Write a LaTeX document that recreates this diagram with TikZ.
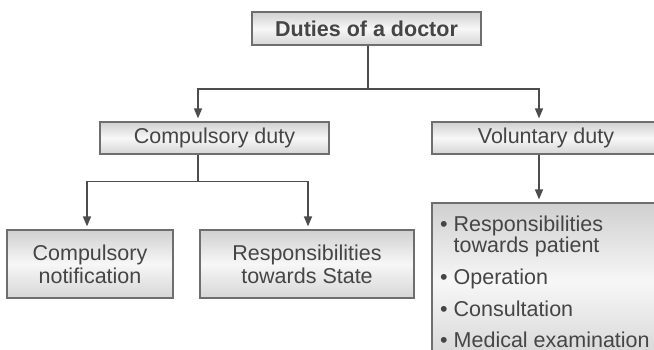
\documentclass[tikz,border=0pt]{standalone}
\usepackage{fontspec}
\setmainfont{Liberation Sans}
\usepackage{tikz}
\usetikzlibrary{arrows.meta}

\definecolor{inkgray}{HTML}{454545}
\definecolor{edgegray}{HTML}{6E6E6E}
\definecolor{linegray}{HTML}{4D4D4D}
\definecolor{shadetop}{HTML}{D0D0D0}
\definecolor{shademid}{HTML}{F7F7F7}
\definecolor{shadebot}{HTML}{D6D6D6}

\begin{document}
\begin{tikzpicture}[x=1pt,y=-1pt,
    duty/.style={draw=edgegray, line width=1.2pt, top color=shadetop,
      bottom color=shadebot, middle color=shademid, inner sep=0pt,
      text=inkgray, align=center,
      font=\fontsize{21.5}{23}\selectfont},
    link/.style={draw=linegray, line width=1.5pt},
    arr/.style={link, -{Triangle[length=10pt,width=8pt]}, shorten >=3pt}]
    \useasboundingbox (0,0) rectangle (654,350);
    \clip (0,0) rectangle (654,350);
    % boxes
    \node[duty, minimum width=229, minimum height=33, font=\fontsize{21.5}{23}\selectfont\bfseries]
      (duties) at (366.5,28.5) {Duties of a doctor};
    \node[duty, minimum width=229, minimum height=32] (comp) at (214.5,138) {Compulsory duty};
    \node[duty, minimum width=228, minimum height=32] (vol) at (546,138) {Voluntary duty};
    \node[duty, minimum width=166, minimum height=68] (note) at (90,264) {Compulsory\\notification};
    \node[duty, minimum width=214, minimum height=68] (state) at (307,264) {Responsibilities\\towards State};
    \node[duty, minimum width=228, minimum height=157] (vbox) at (546,281.5) {};
    \node[anchor=north west, inner sep=0pt, align=left, text=inkgray,
      font=\fontsize{21.5}{21}\selectfont] (vlist) at (440,216)
      {\textbullet~Responsibilities\\\hphantom{\textbullet~}towards patient\\[11pt]
       \textbullet~Operation\\[11pt]
       \textbullet~Consultation\\[10pt]
       \textbullet~Medical examination};
    % connectors
    \draw[link] ([xshift=1.5pt]duties.south) -- ++(0,43.5) coordinate (split);
    \draw[arr] (split) -| ([xshift=-16.5pt]comp.north);
    \draw[arr] (split) -| ([xshift=-7pt]vol.north);
    \draw[link] ([xshift=-16.5pt]comp.south) -- ++(0,27) coordinate (csplit);
    \draw[arr] (csplit) -| ([xshift=-3pt]note.north);
    \draw[arr] (csplit) -| ([xshift=1pt]state.north);
    \draw[arr] ([xshift=-7pt]vol.south) -- ([xshift=-7pt]vbox.north);
\end{tikzpicture}
\end{document}
